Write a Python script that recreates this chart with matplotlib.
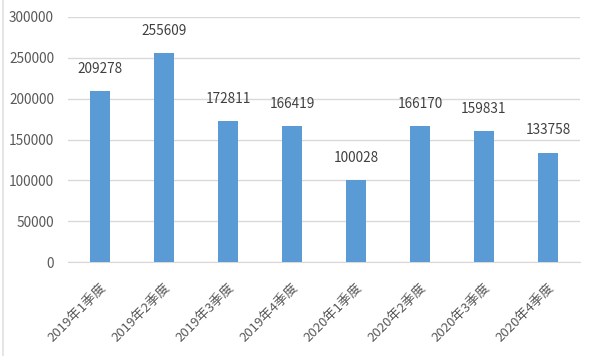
import matplotlib.pyplot as plt
import numpy as np

plt.rcParams['font.family'] = ['Noto Sans CJK SC', 'DejaVu Sans']

quarters = ['2019年1季度', '2019年2季度', '2019年3季度', '2019年4季度',
            '2020年1季度', '2020年2季度', '2020年3季度', '2020年4季度']
values = [209278, 255609, 172811, 166419, 100028, 166170, 159831, 133758]
y_ticks = [0, 50000, 100000, 150000, 200000, 250000, 300000]

fig = plt.figure(figsize=(5.96, 3.56), dpi=100)
ax = fig.add_axes([68 / 596, 1 - 262 / 356, 512 / 596, 245 / 356])

x = np.arange(len(quarters))
ax.bar(x, values, width=0.31, color='#5B9BD5', zorder=3)

# data labels above bars
for xi, v in zip(x, values):
    ax.annotate(f'{v}', xy=(xi, v), xytext=(0, 11), textcoords='offset points',
                ha='center', va='bottom', fontsize=9.8, color='#404040')

ax.set_xlim(-0.5, len(quarters) - 0.5)
ax.set_ylim(0, 300000)
ax.set_yticks(y_ticks)
ax.set_yticklabels([str(t) for t in y_ticks], fontsize=9.8, color='#595959')
ax.set_xticks(x)
ax.set_xticklabels(quarters, rotation=45, ha='right', rotation_mode='anchor',
                   fontsize=9.5, color='#595959')
ax.tick_params(axis='x', length=0, pad=14)
ax.tick_params(axis='y', length=0, pad=10)

ax.grid(axis='y', color='#d9d9d9', linewidth=1, zorder=0)
for side in ['top', 'right', 'left']:
    ax.spines[side].set_visible(False)
ax.spines['bottom'].set_color('#d9d9d9')

# faint border on the left edge of the picture
fig.add_artist(plt.Line2D([2.5 / 596, 2.5 / 596], [0, 1], color='#e0e0e0', linewidth=1.2))

fig.savefig('out.png', dpi=100)
